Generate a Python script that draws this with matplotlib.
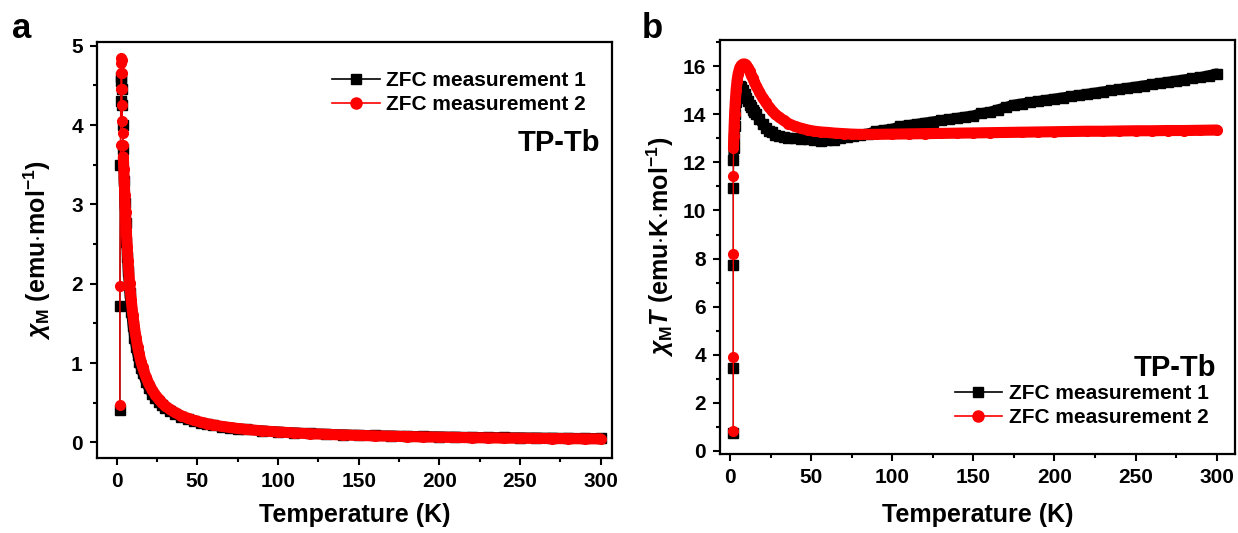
import matplotlib
matplotlib.use("Agg")
import matplotlib.pyplot as plt
from matplotlib.lines import Line2D
from matplotlib.ticker import MultipleLocator

plt.rcParams['font.family'] = ['Liberation Sans', 'DejaVu Sans']
plt.rcParams['font.weight'] = 'bold'
plt.rcParams['axes.labelweight'] = 'bold'
plt.rcParams['mathtext.fontset'] = 'custom'
plt.rcParams['mathtext.rm'] = 'Liberation Sans:bold'
plt.rcParams['mathtext.it'] = 'Liberation Sans:bold:italic'
plt.rcParams['mathtext.bf'] = 'Liberation Sans:bold'

# panel a: chi_M vs T
T_a1 = [2.0, 2.0, 2.3, 2.5, 2.7, 2.9, 3.1, 3.3, 3.6, 4.0, 4.5, 5.0, 5.5, 6.0, 6.5, 7.0, 8.0, 9.0,
        10, 11, 12, 13, 14, 15, 16, 18, 20, 22, 24, 26, 28, 30, 33, 36, 40, 44, 48, 52, 56, 60,
        65, 70, 75, 80, 90, 100, 110, 120, 130, 140, 150, 160, 170, 180, 190, 200, 210, 220,
        230, 240, 250, 260, 270, 280, 290, 300]
chi_a1 = [0.41, 1.72, 3.5, 4.3, 4.55, 4.6, 4.45, 4.25, 4.0, 3.7, 3.3, 3.02, 2.76, 2.53, 2.34, 2.16,
          1.88, 1.65, 1.47, 1.32, 1.2, 1.1, 1.01, 0.94, 0.875, 0.767, 0.68, 0.611, 0.554, 0.51,
          0.47, 0.437, 0.395, 0.361, 0.325, 0.295, 0.27, 0.248, 0.23, 0.215, 0.199, 0.186,
          0.175, 0.164, 0.148, 0.134, 0.123, 0.114, 0.106, 0.099, 0.093, 0.088, 0.084, 0.08,
          0.077, 0.073, 0.07, 0.067, 0.065, 0.063, 0.061, 0.059, 0.057, 0.055, 0.054, 0.052]
T_a2 = [2.0, 2.0, 2.4, 2.6, 2.7, 2.8, 2.9, 3.0, 3.1, 3.2, 3.3, 3.5, 3.7, 3.9, 4.1, 4.4, 4.7, 5.0,
        5.5, 6.0, 6.5, 7.0, 8.0, 9.0, 10, 11, 12, 13, 14, 15, 16, 18, 20, 22, 24, 26, 28, 30,
        33, 36, 40, 44, 48, 52, 56, 60, 65, 70, 75, 80, 90, 100, 110, 120, 130, 140, 150, 160,
        170, 180, 190, 200, 210, 220, 230, 240, 250, 260, 270, 280, 290, 300]
chi_a2 = [0.47, 1.97, 3.75, 4.45, 4.65, 4.78, 4.85, 4.82, 4.65, 4.45, 4.25, 4.05, 3.9, 3.75, 3.6,
          3.45, 3.3, 3.12, 2.9, 2.66, 2.46, 2.29, 2.01, 1.79, 1.61, 1.45, 1.32, 1.2, 1.11, 1.02,
          0.95, 0.83, 0.735, 0.66, 0.6, 0.545, 0.5, 0.463, 0.417, 0.378, 0.338, 0.305, 0.279,
          0.256, 0.237, 0.221, 0.203, 0.189, 0.176, 0.165, 0.146, 0.132, 0.12, 0.11, 0.102,
          0.094, 0.088, 0.083, 0.078, 0.074, 0.07, 0.066, 0.063, 0.06, 0.058, 0.055, 0.053,
          0.051, 0.049, 0.048, 0.046, 0.045]

# panel b: chi_M*T vs T
T_b1 = [2.0, 2.0, 2.0, 2.0, 2.1, 2.3, 2.5, 2.8, 3.2, 3.7, 4.3, 5, 6, 7, 8, 9, 10, 11, 12, 13, 14,
        15, 16, 18, 20, 22, 24, 26, 28, 30, 33, 36, 40, 44, 48, 52, 56, 60, 64, 68, 72, 76, 80,
        85, 90, 95, 100, 105, 110, 115, 120, 125, 130, 135, 140, 145, 150, 155, 160, 165, 170,
        175, 180, 185, 190, 195, 200, 205, 210, 215, 220, 225, 230, 235, 240, 245, 250, 255,
        260, 265, 270, 275, 280, 285, 290, 295, 300]
chiT_b1 = [0.75, 3.45, 7.75, 10.95, 12.1, 12.6, 13.0, 13.5, 14.0, 14.5, 14.9, 15.1, 15.2, 15.15,
           15.0, 14.85, 14.7, 14.55, 14.4, 14.3, 14.2, 14.1, 14.0, 13.8, 13.6, 13.45, 13.3,
           13.25, 13.15, 13.1, 13.05, 13.0, 13.0, 12.98, 12.97, 12.92, 12.9, 12.92, 12.95, 13.0,
           13.05, 13.1, 13.15, 13.2, 13.3, 13.35, 13.4, 13.5, 13.55, 13.6, 13.65, 13.7, 13.75,
           13.8, 13.85, 13.9, 13.95, 14.05, 14.1, 14.2, 14.3, 14.4, 14.45, 14.5, 14.55, 14.6,
           14.65, 14.7, 14.75, 14.8, 14.85, 14.9, 14.95, 15.0, 15.05, 15.1, 15.15, 15.2, 15.25,
           15.3, 15.35, 15.4, 15.45, 15.5, 15.55, 15.62, 15.7]
T_b2 = [2.0, 2.0, 2.0, 2.0, 2.1, 2.3, 2.5, 2.8, 3.2, 3.7, 4.3, 5, 6, 7, 8, 9, 10, 11, 12, 13, 14,
        15, 16, 18, 20, 22, 24, 26, 28, 30, 33, 36, 40, 44, 48, 52, 56, 60, 65, 70, 75, 80, 90,
        100, 110, 120, 130, 140, 150, 160, 170, 180, 190, 200, 210, 220, 230, 240, 250, 260,
        270, 280, 290, 300]
chiT_b2 = [0.83, 3.9, 8.2, 11.45, 12.6, 13.1, 13.5, 14.0, 14.5, 15.0, 15.4, 15.7, 15.95, 16.05,
           16.1, 16.1, 16.05, 15.95, 15.8, 15.65, 15.5, 15.35, 15.2, 14.95, 14.7, 14.5, 14.3,
           14.15, 14.0, 13.9, 13.75, 13.62, 13.5, 13.42, 13.35, 13.3, 13.27, 13.25, 13.22, 13.2,
           13.18, 13.17, 13.17, 13.18, 13.19, 13.2, 13.21, 13.22, 13.23, 13.24, 13.25, 13.26,
           13.27, 13.28, 13.29, 13.3, 13.3, 13.31, 13.32, 13.32, 13.33, 13.33, 13.34, 13.35]

labels = ['ZFC measurement 1', 'ZFC measurement 2']

fig = plt.figure(figsize=(12.38, 5.33), dpi=100)
ax1 = fig.add_axes([0.0781, 0.1401, 0.4165, 0.7817])
ax2 = fig.add_axes([0.5816, 0.1477, 0.4160, 0.7773])


def draw(ax, x, y, color, marker, ms, band, start):
    ax.plot(x, y, color=color, lw=1, marker=marker, ms=ms, mec=color, mfc=color)
    # dense measured points overlap into a thick band
    ax.plot(x[start:], y[start:], color=color, lw=band, solid_capstyle='round',
            solid_joinstyle='round')


draw(ax1, T_a1, chi_a1, 'black', 's', 6.5, 7.5, 9)
draw(ax1, T_a2, chi_a2, 'red', 'o', 7.0, 8.0, 14)
draw(ax2, T_b1, chiT_b1, 'black', 's', 6.5, 7.5, 4)
draw(ax2, T_b2, chiT_b2, 'red', 'o', 7.0, 8.0, 4)

handles = [Line2D([], [], color='black', lw=1.2, marker='s', ms=7),
           Line2D([], [], color='red', lw=1.2, marker='o', ms=8)]

for ax in (ax1, ax2):
    ax.xaxis.set_major_locator(MultipleLocator(50))
    ax.xaxis.set_minor_locator(MultipleLocator(25))
    ax.tick_params(which='both', direction='out', width=1.5, labelsize=15, pad=5)
    ax.tick_params(which='major', length=5)
    ax.tick_params(which='minor', length=3)
    for s in ax.spines.values():
        s.set_linewidth(1.6)
    ax.set_xlabel('Temperature (K)', fontsize=18, fontweight='bold')

ax1.set_xlim(-12.4, 307.2)
ax1.set_ylim(-0.2, 5.05)
ax1.yaxis.set_major_locator(MultipleLocator(1))
ax1.yaxis.set_minor_locator(MultipleLocator(0.5))
ax1.set_ylabel(r'$\chi_{\rm M}$ (emu$\cdot$mol$^{-1}$)', fontsize=18, fontweight='bold')
ax1.xaxis.set_label_coords(0.5, -0.107)
ax1.yaxis.set_label_coords(-0.085, 0.5)
ax1.legend(handles, labels, loc='upper right', bbox_to_anchor=(0.985, 0.975), frameon=False,
           handlelength=2.3, handletextpad=0.3, labelspacing=0.25,
           prop={'weight': 'bold', 'size': 15})
ax1.text(0.976, 0.757, 'TP-Tb', transform=ax1.transAxes, ha='right', va='center',
         fontsize=21, fontweight='bold')

ax2.set_xlim(-6.2, 311.3)
ax2.set_ylim(-0.15, 17.1)
ax2.yaxis.set_major_locator(MultipleLocator(2))
ax2.yaxis.set_minor_locator(MultipleLocator(1))
ax2.set_ylabel(r'$\chi_{\rm M}T$ (emu$\cdot$K$\cdot$mol$^{-1}$)', fontsize=18, fontweight='bold')
ax2.xaxis.set_label_coords(0.5, -0.118)
ax2.yaxis.set_label_coords(-0.085, 0.5)
ax2.legend(handles, labels, loc='lower right', bbox_to_anchor=(0.985, 0.02), frameon=False,
           handlelength=2.3, handletextpad=0.3, labelspacing=0.25,
           prop={'weight': 'bold', 'size': 15})
ax2.text(0.963, 0.208, 'TP-Tb', transform=ax2.transAxes, ha='right', va='center',
         fontsize=21, fontweight='bold')

fig.text(0.01, 0.947, 'a', fontsize=25, fontweight='bold', va='center')
fig.text(0.518, 0.947, 'b', fontsize=25, fontweight='bold', va='center')

fig.savefig('out.png', dpi=100)
